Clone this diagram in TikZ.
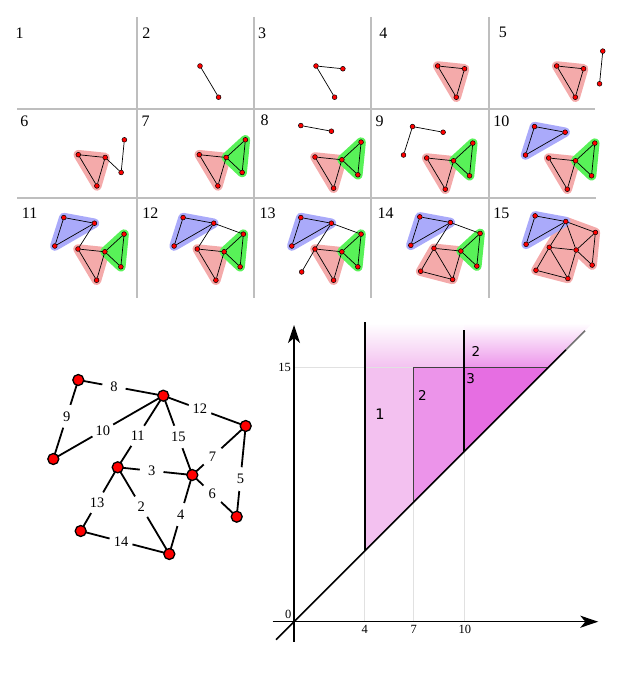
\documentclass[tikz,border=0pt]{standalone}
\usepackage{fontspec}
\setmainfont{Liberation Serif}
\newfontfamily\dejavu{DejaVu Sans}
\usetikzlibrary{arrows.meta}
\definecolor{hred}{RGB}{244,170,170}
\definecolor{hgreen}{RGB}{88,242,88}
\definecolor{hblue}{RGB}{170,170,250}
\definecolor{pla}{RGB}{243,193,240}
\definecolor{plb}{RGB}{236,148,234}
\definecolor{plc}{RGB}{230,110,226}
\definecolor{gridgray}{RGB}{190,190,190}
\definecolor{faint}{RGB}{225,225,225}
\tikzset{
  sv/.style={circle, fill=red, draw=black, line width=0.5pt, minimum size=4.8pt, inner sep=0pt},
  se/.style={line width=0.7pt, draw=black},
  hull/.style={draw=#1, fill=#1, line width=9.5pt, line join=round},
  bv/.style={circle, fill=red, draw=black, line width=1.3pt, minimum size=11pt, inner sep=0pt},
  be/.style={line width=1.8pt, draw=black},
  bl/.style={circle, fill=white, inner sep=0pt, minimum size=24pt, font=\fontsize{14.5}{16}\selectfont},
  cl/.style={inner sep=0pt, font=\fontsize{16}{18}\selectfont},
  gridline/.style={draw=gridgray, line width=1.5pt},
  axl/.style={inner sep=0pt, font=\fontsize{12.5}{14}\selectfont},
  rl/.style={inner sep=0pt, font=\dejavu\fontsize{13.5}{15}\selectfont},
  axis/.style={line width=1.4pt, -{Stealth[length=18pt,width=12pt,inset=5pt]}},
}
\newcommand\mkcoords[2]{%
  \begin{scope}[shift={#2}]
  \foreach \n/\xx/\yy in {A/-14.18/-31.43, B/16.42/-25.78, C/46.08/-14.87, D/-23.18/-2.99, E/0/0, F/26.86/2.77, G/42.84/17.78, H/-13.32/22.93, I/18.58/31.21}
    {\coordinate (#1\n) at (\xx,\yy);}
  \end{scope}}
\newcommand\mkverts[2]{\foreach \n in {#2} {\node[sv] (#1v\n) at (#1\n) {};}}
\newcommand\mkedges[2]{\foreach \a/\b in {#2} {\draw[se] (#1v\a) -- (#1v\b);}}
\begin{document}
\begin{tikzpicture}[x=1pt,y=-1pt]
\useasboundingbox (0,0) rectangle (623,676);
% ---------- grid of steps ----------
\foreach \gx in {137,254,371,489} {\draw[gridline] (\gx,17) -- (\gx,298);}
\draw[gridline] (17,109) -- (595,109);
\draw[gridline] (17,198) -- (596,198);
\node[cl] (t1) at (19.7,32.8) {1};
\node[cl] (t2) at (146.3,32.8) {2};
\node[cl] (t3) at (262,32.8) {3};
\node[cl] (t4) at (383.3,32.8) {4};
\node[cl] (t5) at (502.8,32.8) {5};
\node[cl] (t6) at (24.3,121.2) {6};
\node[cl] (t7) at (145.7,121.2) {7};
\node[cl] (t8) at (264.7,120) {8};
\node[cl] (t9) at (379.7,121.2) {9};
\node[cl] (t10) at (501.3,121) {10};
\node[cl] (t11) at (29.7,213.3) {11};
\node[cl] (t12) at (150.3,213.3) {12};
\node[cl] (t13) at (267.5,213.3) {13};
\node[cl] (t14) at (385.7,213.3) {14};
\node[cl] (t15) at (501.3,213.3) {15};
% cell 2
\mkcoords{c2}{(200,66)}
\mkverts{c2}{E,I}
\mkedges{c2}{E/I}
% cell 3
\mkcoords{c3}{(316,66)}
\mkverts{c3}{E,F,I}
\mkedges{c3}{E/I,E/F}
% cell 4
\mkcoords{c4}{(437.7,66)}
\path[hull=hred] (c4E) -- (c4F) -- (c4I) -- cycle;
\mkverts{c4}{E,F,I}
\mkedges{c4}{E/I,E/F,F/I}
% cell 5
\mkcoords{c5}{(556.7,66)}
\path[hull=hred] (c5E) -- (c5F) -- (c5I) -- cycle;
\mkverts{c5}{E,F,I,C,G}
\mkedges{c5}{E/I,E/F,F/I,C/G}
% cell 6
\mkcoords{c6}{(78.3,154.7)}
\path[hull=hred] (c6E) -- (c6F) -- (c6I) -- cycle;
\mkverts{c6}{E,F,I,C,G}
\mkedges{c6}{E/I,E/F,F/I,C/G,F/G}
% cell 7
\mkcoords{c7}{(199.3,154.7)}
\path[hull=hred] (c7E) -- (c7F) -- (c7I) -- cycle;
\path[hull=hgreen] (c7C) -- (c7G) -- (c7F) -- cycle;
\mkverts{c7}{E,F,I,C,G}
\mkedges{c7}{E/I,E/F,F/I,C/G,F/G,C/F}
% cell 8
\mkcoords{c8}{(315,157)}
\path[hull=hred] (c8E) -- (c8F) -- (c8I) -- cycle;
\path[hull=hgreen] (c8C) -- (c8G) -- (c8F) -- cycle;
\mkverts{c8}{A,B,E,F,I,C,G}
\mkedges{c8}{E/I,E/F,F/I,C/G,F/G,C/F,A/B}
% cell 9
\mkcoords{c9}{(426.7,158)}
\path[hull=hred] (c9E) -- (c9F) -- (c9I) -- cycle;
\path[hull=hgreen] (c9C) -- (c9G) -- (c9F) -- cycle;
\mkverts{c9}{A,B,D,E,F,I,C,G}
\mkedges{c9}{E/I,E/F,F/I,C/G,F/G,C/F,A/B,A/D}
% cell 10
\mkcoords{c10}{(548.7,158)}
\path[hull=hblue] (c10A) -- (c10B) -- (c10D) -- cycle;
\path[hull=hred] (c10E) -- (c10F) -- (c10I) -- cycle;
\path[hull=hgreen] (c10C) -- (c10G) -- (c10F) -- cycle;
\mkverts{c10}{A,B,D,E,F,I,C,G}
\mkedges{c10}{E/I,E/F,F/I,C/G,F/G,C/F,A/B,A/D,D/B}
% cell 11
\mkcoords{c11}{(78,249)}
\path[hull=hblue] (c11A) -- (c11B) -- (c11D) -- cycle;
\path[hull=hred] (c11E) -- (c11F) -- (c11I) -- cycle;
\path[hull=hgreen] (c11C) -- (c11G) -- (c11F) -- cycle;
\mkverts{c11}{A,B,D,E,F,I,C,G}
\mkedges{c11}{E/I,E/F,F/I,C/G,F/G,C/F,A/B,A/D,D/B,B/E}
% cell 12
\mkcoords{c12}{(197.3,249)}
\path[hull=hblue] (c12A) -- (c12B) -- (c12D) -- cycle;
\path[hull=hred] (c12E) -- (c12F) -- (c12I) -- cycle;
\path[hull=hgreen] (c12C) -- (c12G) -- (c12F) -- cycle;
\mkverts{c12}{A,B,D,E,F,I,C,G}
\mkedges{c12}{E/I,E/F,F/I,C/G,F/G,C/F,A/B,A/D,D/B,B/E,B/C}
% cell 13
\mkcoords{c13}{(315,249)}
\path[hull=hblue] (c13A) -- (c13B) -- (c13D) -- cycle;
\path[hull=hred] (c13E) -- (c13F) -- (c13I) -- cycle;
\path[hull=hgreen] (c13C) -- (c13G) -- (c13F) -- cycle;
\mkverts{c13}{A,B,D,E,F,I,C,G,H}
\mkedges{c13}{E/I,E/F,F/I,C/G,F/G,C/F,A/B,A/D,D/B,B/E,B/C,E/H}
% cell 14
\mkcoords{c14}{(434,248.3)}
\path[hull=hblue] (c14A) -- (c14B) -- (c14D) -- cycle;
\path[hull=hred] (c14E) -- (c14F) -- (c14I) -- (c14H) -- cycle;
\path[hull=hgreen] (c14C) -- (c14G) -- (c14F) -- cycle;
\mkverts{c14}{A,B,D,E,F,I,C,G,H}
\mkedges{c14}{E/I,E/F,F/I,C/G,F/G,C/F,A/B,A/D,D/B,B/E,B/C,E/H,H/I}
% cell 15
\mkcoords{c15}{(549.3,247.3)}
\path[hull=hred] (c15B) -- (c15C) -- (c15G) -- (c15F) -- (c15I) -- (c15H) -- (c15E) -- cycle;
\path[hull=hblue] (c15A) -- (c15B) -- (c15D) -- cycle;
\mkverts{c15}{A,B,D,E,F,I,C,G,H}
\mkedges{c15}{E/I,E/F,F/I,C/G,F/G,C/F,A/B,A/D,D/B,B/E,B/C,E/H,H/I,B/F}
% ---------- big graph ----------
\coordinate (pA) at (78.3,380);
\coordinate (pB) at (163.3,395.7);
\coordinate (pC) at (245.7,426);
\coordinate (pD) at (53.3,459);
\coordinate (pE) at (117.7,467.3);
\coordinate (pF) at (192.3,475);
\coordinate (pG) at (236.7,516.7);
\coordinate (pH) at (80.7,531);
\coordinate (pI) at (169.3,554);
\draw[be] (pA) -- node[bl,pos=0.42] (l8) {8} (pB);
\draw[be] (pA) -- node[bl,pos=0.46] (l9) {9} (pD);
\draw[be] (pD) -- node[bl,pos=0.45] (l10) {10} (pB);
\draw[be] (pB) -- node[bl,pos=0.56] (l11) {11} (pE);
\draw[be] (pB) -- node[bl,pos=0.52] (l15) {15} (pF);
\draw[be] (pB) -- node[bl,pos=0.445] (l12) {12} (pC);
\draw[be] (pF) -- node[bl,pos=0.38] (l7) {7} (pC);
\draw[be] (pC) -- node[bl,pos=0.585] (l5) {5} (pG);
\draw[be] (pE) -- node[bl,pos=0.456] (l3) {3} (pF);
\draw[be] (pF) -- node[bl,pos=0.45] (l6) {6} (pG);
\draw[be] (pF) -- node[bl,pos=0.5] (l4) {4} (pI);
\draw[be] (pE) -- node[bl,pos=0.454] (l2) {2} (pI);
\draw[be] (pE) -- node[bl,pos=0.556] (l13) {13} (pH);
\draw[be] (pH) -- node[bl,pos=0.455] (l14) {14} (pI);
\foreach \n in {A,B,C,D,E,F,G,H,I} {\node[bv] (g\n) at (p\n) {};}
% ---------- persistence diagram ----------
\fill[pla] (364.7,551) -- (364.7,367.7) -- (413.7,367.7) -- (413.7,502) -- cycle;
\fill[plb] (413.7,502) -- (413.7,367.7) -- (464,367.7) -- (464,451.7) -- cycle;
\fill[plc] (464,451.7) -- (464,367.7) -- (548,367.7) -- cycle;
\shade[top color=white, bottom color=pla] (364.7,367.7) rectangle (464,323);
\shade[top color=white, bottom color=plb] (464,367.7) -- (548,367.7) -- (592.7,323) -- (464,323) -- cycle;
\draw[faint, line width=0.6pt] (294,367.7) -- (413.7,367.7);
\draw[faint, line width=0.6pt] (364.7,621.7) -- (364.7,551);
\draw[faint, line width=0.6pt] (413.7,621.7) -- (413.7,502);
\draw[faint, line width=0.6pt] (464,621.7) -- (464,451.7);
\draw[black!75, line width=0.9pt] (413.7,502) -- (413.7,367.7) -- (548,367.7);
\draw[line width=1.8pt] (364.7,551) -- (364.7,322);
\draw[line width=1.8pt] (464,451.7) -- (464,330);
\draw[axis] (272.7,621.7) -- (598.3,621.7);
\draw[axis] (294,641.7) -- (294,325);
\draw[line width=1.6pt] (276,639.7) -- (566,349.7);
\draw[black!55, line width=1.6pt] (566,349.7) -- (585,330.7);
\node[axl] (a0) at (288.3,614.8) {0};
\node[axl] (a15) at (284.5,367.7) {15};
\node[axl] (a4) at (364.7,629) {4};
\node[axl] (a7) at (413.7,629) {7};
\node[axl] (a10) at (464.8,629) {10};
\node[rl, font=\dejavu\fontsize{14.5}{16}\selectfont] (r1) at (380,414.7) {1};
\node[rl] (r2) at (422.5,395.8) {2};
\node[rl] (r3) at (470.7,378.3) {3};
\node[rl] (r2b) at (476,351.7) {2};
\end{tikzpicture}
\end{document}
